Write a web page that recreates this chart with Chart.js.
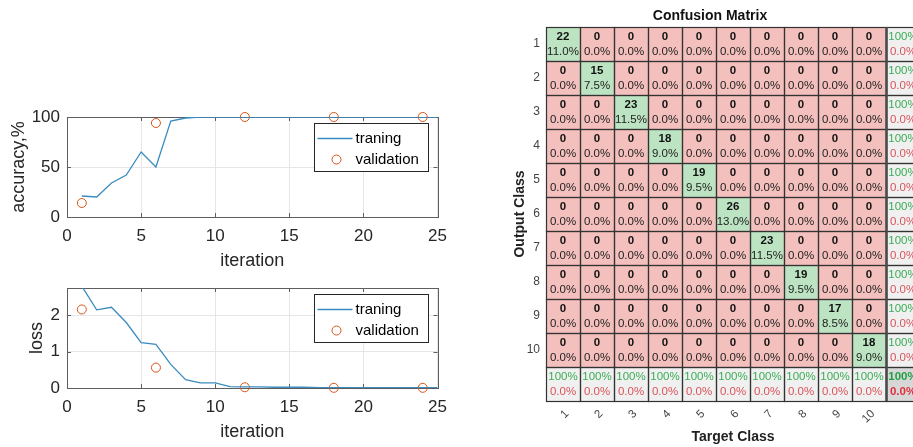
<!DOCTYPE html>
<html>
<head>
<meta charset="utf-8">
<script src="https://cdn.jsdelivr.net/npm/chart.js@4.4.1/dist/chart.umd.min.js"></script>
<style>
  html, body { margin: 0; padding: 0; background: #fff; overflow: hidden; width: 913px; height: 447px; }
  .box { position: absolute; }
</style>
</head>
<body>
<div class="box" style="left:0;top:95px;width:456px;height:180px"><canvas id="acc"></canvas></div>
<div class="box" style="left:0;top:266px;width:456px;height:180px"><canvas id="loss"></canvas></div>
<div class="box" style="left:500px;top:0;width:466px;height:447px"><canvas id="cm"></canvas></div>
<script>
// ---- training curves ----
const ITER = [1, 2, 3, 4, 5, 6, 7, 8, 9, 10, 11, 12, 13, 14, 15, 16, 17, 18, 19, 20, 21, 22, 23, 24, 25];
const ACC_TRAIN = [21, 20, 34, 42, 65, 50, 96, 99, 100, 100, 100, 100, 100, 100, 100, 100, 100, 100, 100, 100, 100, 100, 100, 100, 100];
const LOSS_TRAIN = [2.8, 2.15, 2.22, 1.8, 1.25, 1.2, 0.65, 0.23, 0.14, 0.14, 0.04, 0.03, 0.03, 0.02, 0.02, 0.02, 0.01, 0.01, 0.01, 0.01, 0.01, 0.01, 0.01, 0.01, 0.01];
const VAL_ITER = [1, 6, 12, 18, 24];
const ACC_VAL = [14, 94, 100, 100, 100];
const LOSS_VAL = [2.16, 0.56, 0.02, 0.005, 0.005];
const X_TICKS = [0, 5, 10, 15, 20, 25];
const ACC_TICKS = [0, 50, 100];
const LOSS_TICKS = [0, 1, 2];

// ---- confusion matrix (rows = output class, cols = target class) ----
const CLASSES = ['1', '2', '3', '4', '5', '6', '7', '8', '9', '10'];
const CM = [
  [22, 0, 0, 0, 0, 0, 0, 0, 0, 0],
  [0, 15, 0, 0, 0, 0, 0, 0, 0, 0],
  [0, 0, 23, 0, 0, 0, 0, 0, 0, 0],
  [0, 0, 0, 18, 0, 0, 0, 0, 0, 0],
  [0, 0, 0, 0, 19, 0, 0, 0, 0, 0],
  [0, 0, 0, 0, 0, 26, 0, 0, 0, 0],
  [0, 0, 0, 0, 0, 0, 23, 0, 0, 0],
  [0, 0, 0, 0, 0, 0, 0, 19, 0, 0],
  [0, 0, 0, 0, 0, 0, 0, 0, 17, 0],
  [0, 0, 0, 0, 0, 0, 0, 0, 0, 18]
];

const FONT = "'Liberation Sans', Arial, Helvetica, sans-serif";
const BLUE = '#3a8cc0';
const ORANGE = '#D95319';
const TICK_COLOR = '#262626';
const AXIS_COLOR = '#5e5e5e';
const GRID_COLOR = '#e6e6e6';

// matlab style box around the axes, ticks pointing inward
const axesBox = {
  id: 'axesBox',
  beforeDatasetsDraw(chart) {
    const { ctx, chartArea: a, scales: { x, y } } = chart;
    ctx.save();
    ctx.strokeStyle = AXIS_COLOR;
    ctx.lineWidth = 1;
    ctx.beginPath();
    x.ticks.forEach(t => {
      const px = Math.round(x.getPixelForValue(t.value)) + 0.5;
      ctx.moveTo(px, a.bottom); ctx.lineTo(px, a.bottom - 4);
      ctx.moveTo(px, a.top); ctx.lineTo(px, a.top + 4);
    });
    y.ticks.forEach(t => {
      const py = Math.round(y.getPixelForValue(t.value)) + 0.5;
      ctx.moveTo(a.left, py); ctx.lineTo(a.left + 4, py);
      ctx.moveTo(a.right, py); ctx.lineTo(a.right - 4, py);
    });
    ctx.stroke();
    ctx.strokeRect(Math.round(a.left) + 0.5, Math.round(a.top) + 0.5, Math.round(a.width), Math.round(a.height));
    ctx.restore();
  }
};

// legend box in the upper right corner of the plot
const boxLegend = {
  id: 'boxLegend',
  afterDraw(chart) {
    const { ctx, chartArea: a } = chart;
    const [tr, va] = chart.data.datasets;
    const w = 114, h = 48;
    const x0 = Math.round(a.right - 10 - w) + 0.5, y0 = Math.round(a.top + 6) + 0.5;
    ctx.save();
    ctx.fillStyle = '#fff';
    ctx.fillRect(x0, y0, w, h);
    ctx.strokeStyle = '#262626'; ctx.lineWidth = 1;
    ctx.strokeRect(x0, y0, w, h);
    ctx.strokeStyle = tr.borderColor; ctx.lineWidth = tr.borderWidth;
    ctx.beginPath(); ctx.moveTo(x0 + 3, y0 + 15); ctx.lineTo(x0 + 38, y0 + 15); ctx.stroke();
    ctx.strokeStyle = va.pointBorderColor; ctx.lineWidth = 1;
    ctx.beginPath(); ctx.arc(x0 + 22, y0 + 36, va.pointRadius, 0, Math.PI * 2); ctx.stroke();
    ctx.fillStyle = '#000'; ctx.font = '15px ' + FONT; ctx.textBaseline = 'middle';
    ctx.fillText(tr.label, x0 + 41, y0 + 15);
    ctx.fillText(va.label, x0 + 41, y0 + 36);
    ctx.restore();
  }
};

function curveChart(id, train, val, yMax, yTicks, yTitle, yTitlePad) {
  return new Chart(document.getElementById(id), {
    type: 'line',
    data: {
      datasets: [
        { label: 'traning', data: ITER.map((x, i) => ({ x, y: train[i] })), borderColor: BLUE, borderWidth: 1.3, pointRadius: 0, tension: 0 },
        { label: 'validation', data: VAL_ITER.map((x, i) => ({ x, y: val[i] })), showLine: false, pointRadius: 4.5, pointStyle: 'circle',
          pointBorderColor: ORANGE, pointBackgroundColor: 'rgba(0,0,0,0)', pointBorderWidth: 1, clip: false }
      ]
    },
    options: {
      responsive: true, maintainAspectRatio: false, animation: false,
      layout: { padding: { top: 22, right: 12 } },
      plugins: { legend: { display: false }, tooltip: { enabled: false } },
      scales: {
        x: {
          type: 'linear', min: 0, max: 25,
          afterBuildTicks: s => { s.ticks = X_TICKS.map(v => ({ value: v })); },
          afterFit: s => { s.height = 58; },
          grid: { color: GRID_COLOR, drawTicks: false }, border: { display: false },
          ticks: { color: TICK_COLOR, padding: 9, font: { family: FONT, size: 17 } },
          title: { display: true, text: 'iteration', color: TICK_COLOR, font: { family: FONT, size: 18 }, padding: { top: 0, bottom: 3 } }
        },
        y: {
          type: 'linear', min: 0, max: yMax,
          afterBuildTicks: s => { s.ticks = yTicks.map(v => ({ value: v })); },
          afterFit: s => { s.width = 67; },
          grid: { color: GRID_COLOR, drawTicks: false }, border: { display: false },
          ticks: { color: TICK_COLOR, padding: 7, font: { family: FONT, size: 17 } },
          title: { display: true, text: yTitle, color: TICK_COLOR, font: { family: FONT, size: 18 }, padding: { top: yTitlePad, bottom: 0 } }
        }
      }
    },
    plugins: [axesBox, boxLegend]
  });
}

curveChart('acc', ACC_TRAIN, ACC_VAL, 100, ACC_TICKS, 'accuracy,%', 8);
curveChart('loss', LOSS_TRAIN, LOSS_VAL, 2.75, LOSS_TICKS, 'loss', 26);

// ---- confusion matrix ----
const N = CLASSES.length;
const TOTAL = CM.flat().reduce((s, v) => s + v, 0);
const COL_LABELS = [...CLASSES, ''];
const GREEN_CELL = '#bde4c2', RED_CELL = '#f4c0bd', SUM_CELL = '#f0f0f0', CORNER_CELL = '#d7d7d7';
const GREEN_TXT = '#3aae55', RED_TXT = '#d9545a';

function pct(p) { return p === 1 ? '100%' : (p * 100).toFixed(1) + '%'; }
function rowSum(r) { return CM[r].reduce((s, v) => s + v, 0); }
function colSum(c) { return CM.reduce((s, row) => s + row[c], 0); }

function cellColor(r, c) {
  if (r === N && c === N) return CORNER_CELL;
  if (r === N || c === N) return SUM_CELL;
  return r === c ? GREEN_CELL : RED_CELL;
}

function cellText(r, c) {
  if (r < N && c < N) {
    return [[String(CM[r][c]), 'bold', '#111'], [pct(CM[r][c] / TOTAL), 'normal', '#222']];
  }
  let p;
  if (r < N) p = CM[r][r] / rowSum(r);
  else if (c < N) p = CM[c][c] / colSum(c);
  else p = CM.reduce((s, row, i) => s + row[i], 0) / TOTAL;
  const corner = r === N && c === N;
  const w = corner ? 'bold' : 'normal';
  return [[pct(p), w, corner ? '#22a045' : GREEN_TXT], [pct(1 - p), w, corner ? '#e0303a' : RED_TXT]];
}

const cmCells = {
  id: 'cmCells',
  afterDatasetsDraw(chart) {
    const ctx = chart.ctx;
    ctx.save();
    ctx.textAlign = 'center';
    ctx.textBaseline = 'middle';
    chart.data.datasets.forEach((ds, r) => {
      chart.getDatasetMeta(r).data.forEach((bar, c) => {
        const { x, y, base, width } = bar.getProps(['x', 'y', 'base', 'width'], true);
        const top = Math.min(y, base), h = Math.abs(base - y);
        ctx.strokeStyle = '#333';
        ctx.lineWidth = 1.2;
        ctx.strokeRect(Math.round(x - width / 2) + 0.5, Math.round(top) + 0.5, Math.round(width), Math.round(h));
        const cy = top + h / 2;
        const [a, b] = cellText(r, c);
        ctx.font = a[1] + ' 11.5px ' + FONT; ctx.fillStyle = a[2];
        ctx.fillText(a[0], x, cy - 7.5);
        ctx.font = b[1] + ' 11.5px ' + FONT; ctx.fillStyle = b[2];
        ctx.fillText(b[0], x, cy + 7.5);
      });
    });
    // heavier rule in front of the summary column
    const meta = chart.getDatasetMeta(0).data[N];
    const a = chart.chartArea;
    const sx = Math.round(meta.x - meta.width / 2) + 0.5;
    ctx.strokeStyle = '#4a4a4a';
    ctx.lineWidth = 2.5;
    ctx.beginPath(); ctx.moveTo(sx, a.top); ctx.lineTo(sx, a.bottom); ctx.stroke();
    ctx.restore();
  }
};

new Chart(document.getElementById('cm'), {
  type: 'bar',
  data: {
    labels: COL_LABELS,
    datasets: COL_LABELS.map((_, r) => ({
      data: COL_LABELS.map(() => [r + 0.5, r + 1.5]),
      backgroundColor: COL_LABELS.map((_, c) => cellColor(r, c)),
      borderWidth: 0
    }))
  },
  options: {
    responsive: true, maintainAspectRatio: false, animation: false,
    layout: { padding: { right: 46 } },
    datasets: { bar: { grouped: false, barPercentage: 1, categoryPercentage: 1 } },
    plugins: {
      legend: { display: false }, tooltip: { enabled: false },
      title: { display: true, text: 'Confusion Matrix', color: '#111', font: { family: FONT, size: 14, weight: 'bold' }, padding: { top: 8, bottom: 2.2 } }
    },
    scales: {
      x: {
        type: 'category',
        afterFit: s => { s.height = 46; },
        grid: { display: false, drawTicks: false }, border: { display: false },
        ticks: { color: '#444', padding: 6, labelOffset: 4, minRotation: 45, maxRotation: 45, autoSkip: false, font: { family: FONT, size: 11.5 } },
        title: { display: true, text: 'Target Class', color: '#222', font: { family: FONT, size: 14, weight: 'bold' }, padding: { top: 0, bottom: 1.6 } }
      },
      y: {
        type: 'linear', reverse: true, min: 0.5, max: N + 1.5,
        afterBuildTicks: s => { s.ticks = CLASSES.map((_, i) => ({ value: i + 1 })); },
        afterFit: s => { s.width = 46; },
        grid: { display: false, drawTicks: false }, border: { display: false },
        ticks: { color: '#444', padding: 6, autoSkip: false, font: { family: FONT, size: 12 }, callback: (v, i) => CLASSES[i] },
        title: { display: true, text: 'Output Class', color: '#222', font: { family: FONT, size: 14, weight: 'bold' }, padding: { top: 11.6, bottom: 0 } }
      }
    }
  },
  plugins: [cmCells]
});
</script>
</body>
</html>
